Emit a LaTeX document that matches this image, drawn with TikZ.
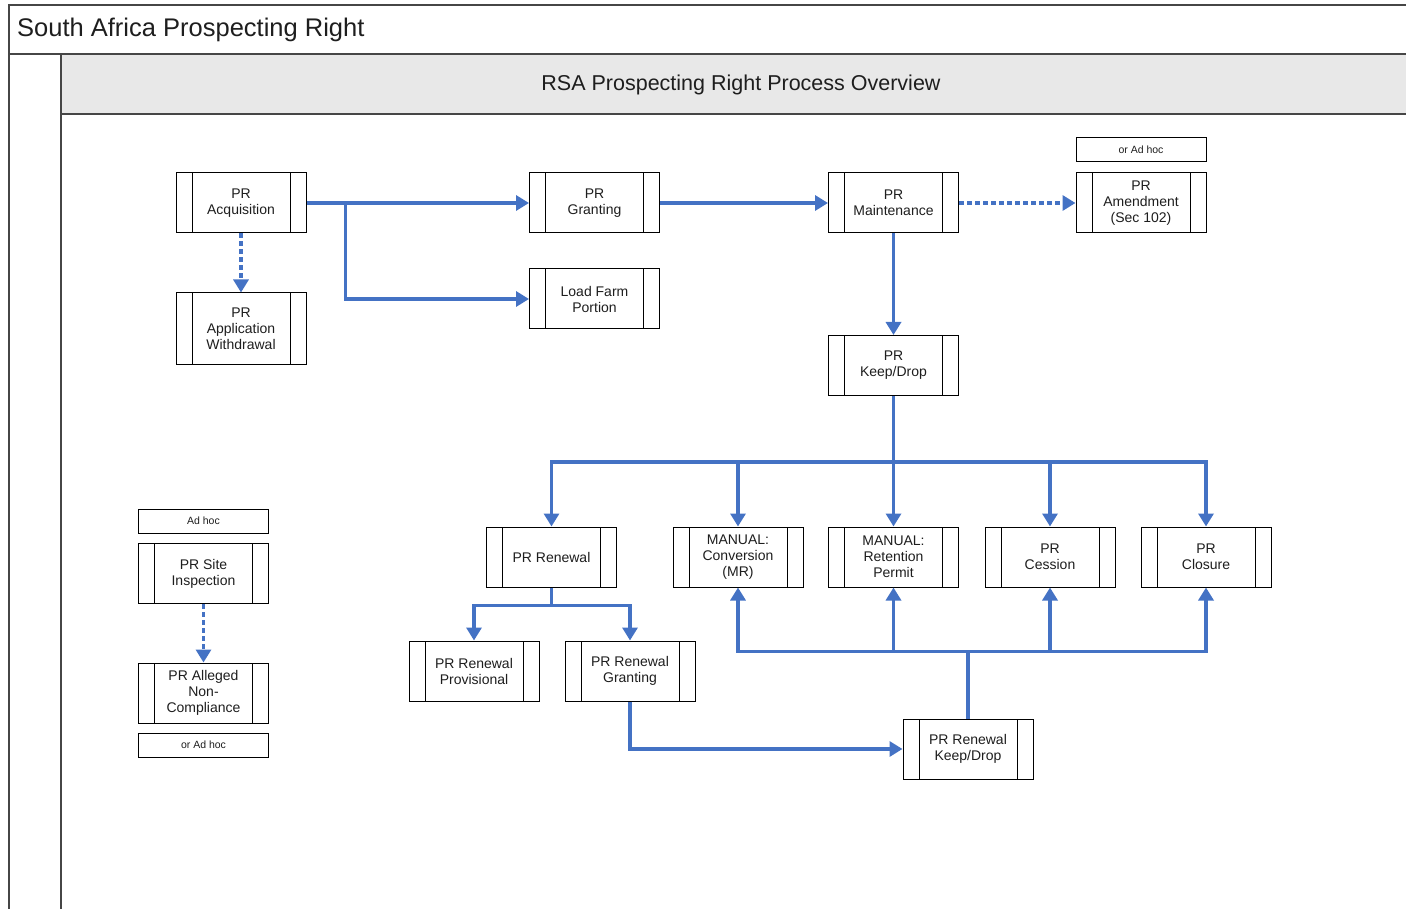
\documentclass[tikz,border=0pt]{standalone}
\usepackage{fontspec}
\setmainfont{Liberation Sans}
\usetikzlibrary{arrows.meta}
\definecolor{flow}{RGB}{68,114,196}
\definecolor{frame}{RGB}{70,70,70}
\definecolor{hdr}{RGB}{232,232,232}
\definecolor{txt}{RGB}{30,30,30}
\tikzset{
  sub/.style={draw=black, line width=1pt, fill=white, text=txt, align=center,
    minimum width=130pt, minimum height=60pt, inner sep=0pt,
    font=\fontsize{14}{16}\selectfont,
    path picture={
      \draw[line width=1pt] ([xshift=16pt]path picture bounding box.north west) -- ([xshift=16pt]path picture bounding box.south west);
      \draw[line width=1pt] ([xshift=-16pt]path picture bounding box.north east) -- ([xshift=-16pt]path picture bounding box.south east);
    }},
  tag/.style={draw=black, line width=1pt, fill=white, text=txt, align=center,
    minimum width=130pt, minimum height=24pt, inner sep=0pt,
    font=\fontsize{10.5}{12}\selectfont},
  link/.style={draw=flow, line width=3.6pt},
  conn/.style={link, -{Triangle[width=15pt,length=13pt]}},
  dconn/.style={conn, dash pattern=on 5pt off 3pt},
}
\begin{document}
\begin{tikzpicture}[x=1pt,y=-1pt]
\useasboundingbox (0,0) rectangle (1406,909);
% frame
\fill[hdr] (61,54) rectangle (1406,114);
\draw[frame, line width=1.6pt] (1406,5) -- (9,5) -- (9,909);
\draw[frame, line width=1.6pt] (9,54) -- (1406,54);
\draw[frame, line width=1.6pt] (61,54) -- (61,909);
\draw[frame, line width=1.6pt] (61,114) -- (1406,114);
\node[anchor=west, text=txt, font=\fontsize{25.5}{28}\selectfont, inner sep=0pt] (title) at (17,30) {South Africa Prospecting Right};
\node[text=txt, font=\fontsize{21.5}{24}\selectfont, inner sep=0pt] (lane) at (741,85) {RSA Prospecting Right Process Overview};
% nodes
\node[sub] (acq) at (241,203) {PR\\Acquisition};
\node[sub, minimum height=72pt] (wd) at (241,329) {PR\\Application\\Withdrawal};
\node[sub] (gran) at (594.5,203) {PR\\Granting};
\node[sub] (farm) at (594.5,299) {Load Farm\\Portion};
\node[sub] (maint) at (893.5,203) {PR\\Maintenance};
\node[tag] (tag1) at (1141,149.5) {or Ad hoc};
\node[sub] (amend) at (1141,203) {PR\\Amendment\\(Sec 102)};
\node[sub] (kd) at (893.5,365.5) {PR\\Keep/Drop};
\node[tag] (tag2) at (203.5,521) {Ad hoc};
\node[sub] (site) at (203.5,573.5) {PR Site\\Inspection};
\node[sub] (anc) at (203.5,693) {PR Alleged\\Non-\\Compliance};
\node[tag] (tag3) at (203.5,745) {or Ad hoc};
\node[sub] (ren) at (551.5,557) {PR Renewal};
\node[sub] (conv) at (738,557) {MANUAL:\\Conversion\\(MR)};
\node[sub] (ret) at (893.5,557) {MANUAL:\\Retention\\Permit};
\node[sub] (ces) at (1050,557) {PR\\Cession};
\node[sub] (clo) at (1206,557) {PR\\Closure};
\node[sub] (prov) at (474,671) {PR Renewal\\Provisional};
\node[sub] (rgr) at (630,671) {PR Renewal\\Granting};
\node[sub] (rkd) at (968,749) {PR Renewal\\Keep/Drop};
% connectors
\draw[conn] (acq.east) -- (gran.west);
\draw[conn] (acq.east) -- ++(39,0) |- (farm.west);
\draw[dconn] (acq.south) -- (wd.north);
\draw[conn] (gran.east) -- (maint.west);
\draw[dconn] (maint.east) -- (amend.west);
\draw[conn] (maint.south) -- (kd.north);
\draw[dconn] (site.south) -- (anc.north);
\draw[link] (kd.south) -- ++(0,66) coordinate (hub);
\foreach \t in {ren,conv,ret,ces,clo} \draw[conn] (hub) -| (\t.north);
\draw[link] (ren.south) -- ++(0,18) coordinate (rhub);
\draw[conn] (rhub) -| (prov.north);
\draw[conn] (rhub) -| (rgr.north);
\draw[conn] (rgr.south) |- (rkd.west);
\draw[link] (rkd.north) -- ++(0,-67) coordinate (khub);
\foreach \t in {conv,ret,ces,clo} \draw[conn] (khub) -| (\t.south);
\end{tikzpicture}
\end{document}
